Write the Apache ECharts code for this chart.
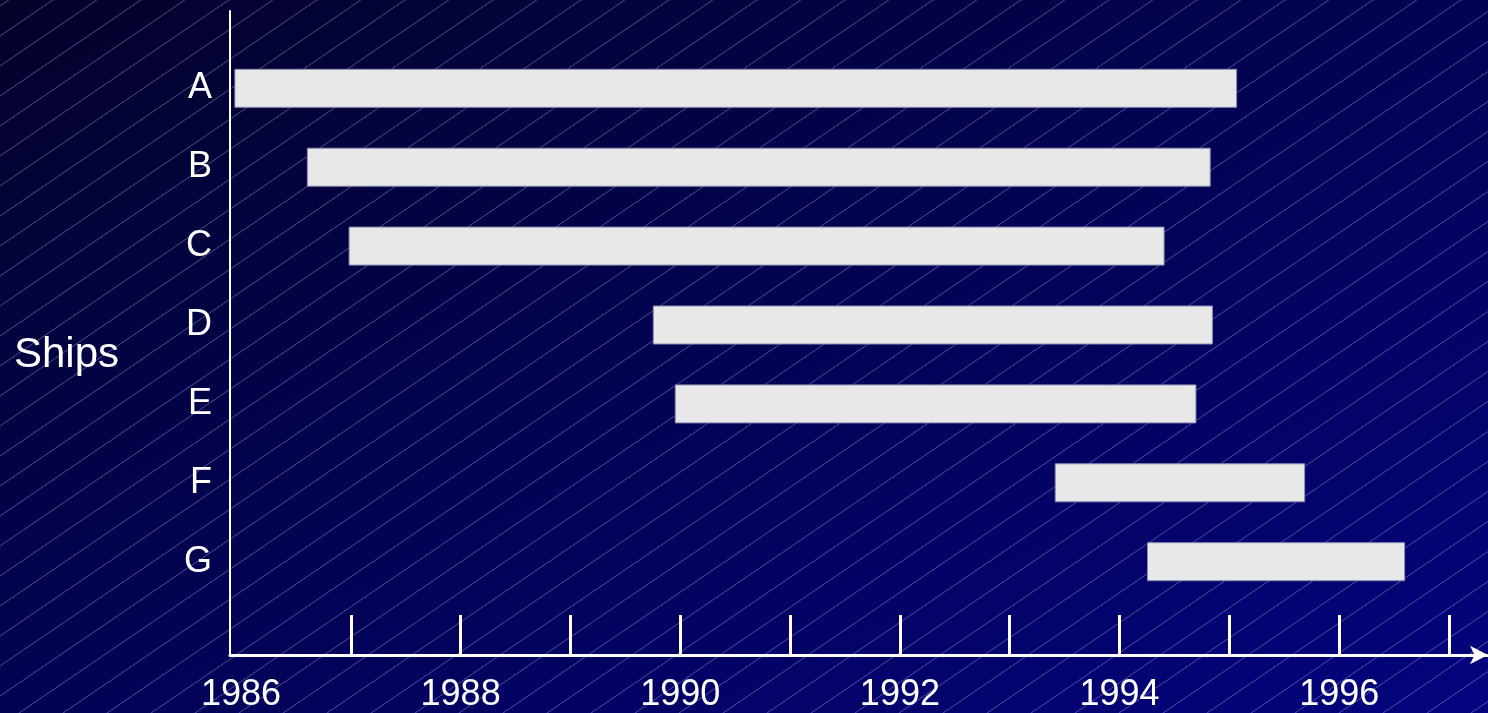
<!DOCTYPE html>
<html>
<head>
<meta charset="utf-8">
<script src="https://cdn.jsdelivr.net/npm/echarts@6/dist/echarts.min.js"></script>
<style>
html,body{margin:0;padding:0;width:1488px;height:713px;overflow:hidden;}
#chart{
  width:1488px;height:713px;
  background-image:
    url("data:image/svg+xml;utf8,<svg xmlns='http://www.w3.org/2000/svg' width='44' height='30'><path d='M-44 60 L88 -30' stroke='rgb(150,150,220)' stroke-opacity='0.5' stroke-width='1' fill='none'/></svg>"),
    linear-gradient(to bottom right, #03022a, #03037e);
  background-size: 44px 30px, 100% 100%;
  background-position: 0 6px, 0 0;
  background-repeat: repeat, no-repeat;
}
</style>
</head>
<body>
<div id="chart"></div>
<script>
// ---- data ----
const ships = ['A', 'B', 'C', 'D', 'E', 'F', 'G'];
const startYears = [1985.94, 1986.6, 1986.98, 1989.75, 1989.95, 1993.41, 1994.25];
const endYears   = [1995.07, 1994.83, 1994.41, 1994.85, 1994.70, 1995.69, 1996.60];
const tickYears  = [1987, 1988, 1989, 1990, 1991, 1992, 1993, 1994, 1995, 1996, 1997];
const labelYears = [1986, 1988, 1990, 1992, 1994, 1996];
const axisTitle = 'Ships';
const xMin = 1985.9, xMax = 1997.355;

const durations = startYears.map((s, i) => +(endYears[i] - s).toFixed(3));
const font = 'Liberation Sans, Arial, sans-serif';

const chart = echarts.init(document.getElementById('chart'), null, {renderer: 'canvas'});
chart.setOption({
  backgroundColor: 'transparent',
  animation: false,
  grid: [
    {left: 230, right: 0, top: 11, bottom: 56},
    {left: 230, right: 0, top: 48.85, height: 552.3}
  ],
  xAxis: [
    {
      type: 'value', gridIndex: 0, min: xMin, max: xMax,
      axisLine: {show: true, lineStyle: {color: '#ffffff', width: 3}, symbol: ['none', 'arrow'], symbolSize: [14, 18]},
      axisTick: {show: true, inside: true, length: 40, customValues: tickYears, lineStyle: {color: '#ffffff', width: 3}},
      axisLabel: {show: true, customValues: labelYears, color: '#ffffff', fontSize: 36, fontFamily: font, margin: 22,
                  formatter: v => String(Math.round(v))},
      splitLine: {show: false}
    },
    {
      type: 'value', gridIndex: 1, min: xMin, max: xMax, show: false
    }
  ],
  yAxis: [
    {
      type: 'value', gridIndex: 0, min: 0, max: 1,
      axisLine: {show: true, lineStyle: {color: '#ffffff', width: 2}},
      axisTick: {show: false}, axisLabel: {show: false}, splitLine: {show: false}
    },
    {
      type: 'category', gridIndex: 1, data: ships, inverse: true,
      axisLine: {show: false}, axisTick: {show: false},
      axisLabel: {color: '#ffffff', fontSize: 36, fontFamily: font, margin: 18},
      splitLine: {show: false}
    }
  ],
  graphic: [
    {type: 'text', left: 14, top: 334, style: {text: axisTitle, fill: '#ffffff', font: '42px ' + font}}
  ],
  series: [
    {
      type: 'bar', xAxisIndex: 1, yAxisIndex: 1, stack: 'span', barWidth: 39,
      data: startYears, itemStyle: {color: 'rgba(0,0,0,0)'}, silent: true
    },
    {
      type: 'bar', xAxisIndex: 1, yAxisIndex: 1, stack: 'span', barWidth: 39,
      data: durations,
      itemStyle: {color: '#e8e8e8', borderColor: '#8c8cb4', borderWidth: 1}
    }
  ]
});
</script>
</body>
</html>
